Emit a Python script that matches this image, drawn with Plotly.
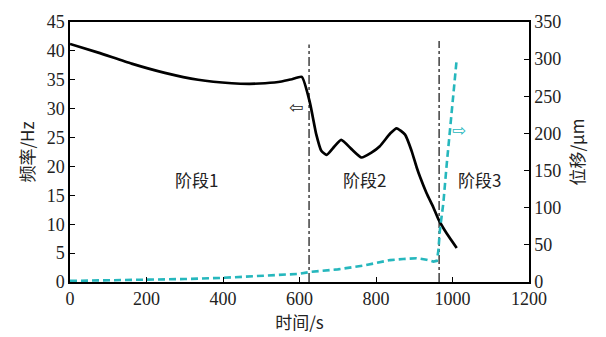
import plotly.graph_objects as go

# Frequency (left axis, Hz)
freq_t = [0, 74, 161, 248, 335, 423, 470, 510, 553, 580, 606,
          627, 644, 657, 671, 688, 709, 736, 762, 788, 810, 837, 854, 876, 893, 906,
          915, 932, 950, 963, 985, 1011]
freq_v = [41.2, 39.7, 37.8, 36.2, 35.0, 34.4, 34.3, 34.4, 34.7, 35.1, 35.5,
          31.1, 25.5, 22.7, 22.0, 23.2, 24.6, 23.0, 21.55, 22.4, 23.5, 25.7, 26.6, 25.5, 22.7, 19.9,
          18.2, 15.4, 12.9, 10.9, 8.4, 5.9]

# Displacement (right axis, um)
disp_t = [0, 100, 200, 300, 400, 500, 600, 627, 700, 767, 802, 837, 871, 906, 932, 950, 959, 963,
          967, 976, 985, 994, 1002, 1011]
disp_v = [1.5, 2.0, 3.0, 4.0, 5.6, 8.0, 11.0, 13.5, 17.0, 22.0, 26.0, 29.5, 31.0, 32.0, 30.0, 27.5, 28.5, 42.0,
          69.6, 106, 159, 207, 254, 300]

# Stage boundaries (dash-dot lines), in Hz on the left axis
stage_x = [625, 965]
stage_top = [41.1, 41.7]

stage_labels = ["阶段1", "阶段2", "阶段3"]
stage_label_x = [330, 770, 1070]
stage_label_y = [17.8, 17.8, 17.8]

x_ticks = [0, 200, 400, 600, 800, 1000, 1200]
y1_ticks = [0, 5, 10, 15, 20, 25, 30, 35, 40, 45]
y2_ticks = [0, 50, 100, 150, 200, 250, 300, 350]

CJK = "Noto Sans CJK SC"
CYAN = "#26b7bd"

fig = go.Figure()

for sx, st in zip(stage_x, stage_top):
    fig.add_trace(go.Scatter(x=[sx, sx], y=[0, st], mode="lines",
                             line=dict(color="#222", width=1.3, dash="dashdot"),
                             showlegend=False, hoverinfo="skip"))

fig.add_trace(go.Scatter(x=freq_t, y=freq_v, mode="lines",
                         line=dict(color="black", width=2.7, shape="spline", smoothing=0.5),
                         showlegend=False))
fig.add_trace(go.Scatter(x=disp_t, y=disp_v, mode="lines", yaxis="y2",
                         line=dict(color=CYAN, width=2.6, dash="7px,4px"),
                         showlegend=False))

for txt, lx, ly in zip(stage_labels, stage_label_x, stage_label_y):
    fig.add_annotation(x=lx, y=ly, text=txt, showarrow=False,
                       font=dict(family=CJK, size=17, color="#222"))

fig.add_annotation(x=592, y=30.3, text="⇦", showarrow=False,
                   font=dict(family="DejaVu Sans", size=17, color="#222"))
fig.add_annotation(x=1018, y=205, yref="y2", text="⇨", showarrow=False,
                   font=dict(family="DejaVu Sans", size=17, color=CYAN))

axis_common = dict(showline=True, linecolor="black", linewidth=1.5, ticks="inside",
                   ticklen=5, tickwidth=1.2, tickcolor="black", showgrid=False,
                   zeroline=False, tickfont=dict(family="Liberation Serif", size=18, color="#222"))

fig.update_layout(
    width=606, height=337,
    margin=dict(l=70, r=77, t=17, b=52),
    plot_bgcolor="white", paper_bgcolor="white",
    xaxis=dict(range=[0, 1200], tickvals=x_ticks, mirror=True,
               title=dict(text="时间/s", font=dict(family=CJK, size=17, color="#222"), standoff=4),
               **axis_common),
    yaxis=dict(range=[0, 45], tickvals=y1_ticks,
               title=dict(text="频率/Hz", font=dict(family=CJK, size=17, color="#222"), standoff=8),
               **axis_common),
    yaxis2=dict(range=[0, 350], tickvals=y2_ticks, overlaying="y", side="right",
                title=dict(text="位移/μm", font=dict(family=CJK, size=17, color="#222"), standoff=12),
                **axis_common),
)

fig.write_html("out.html")
